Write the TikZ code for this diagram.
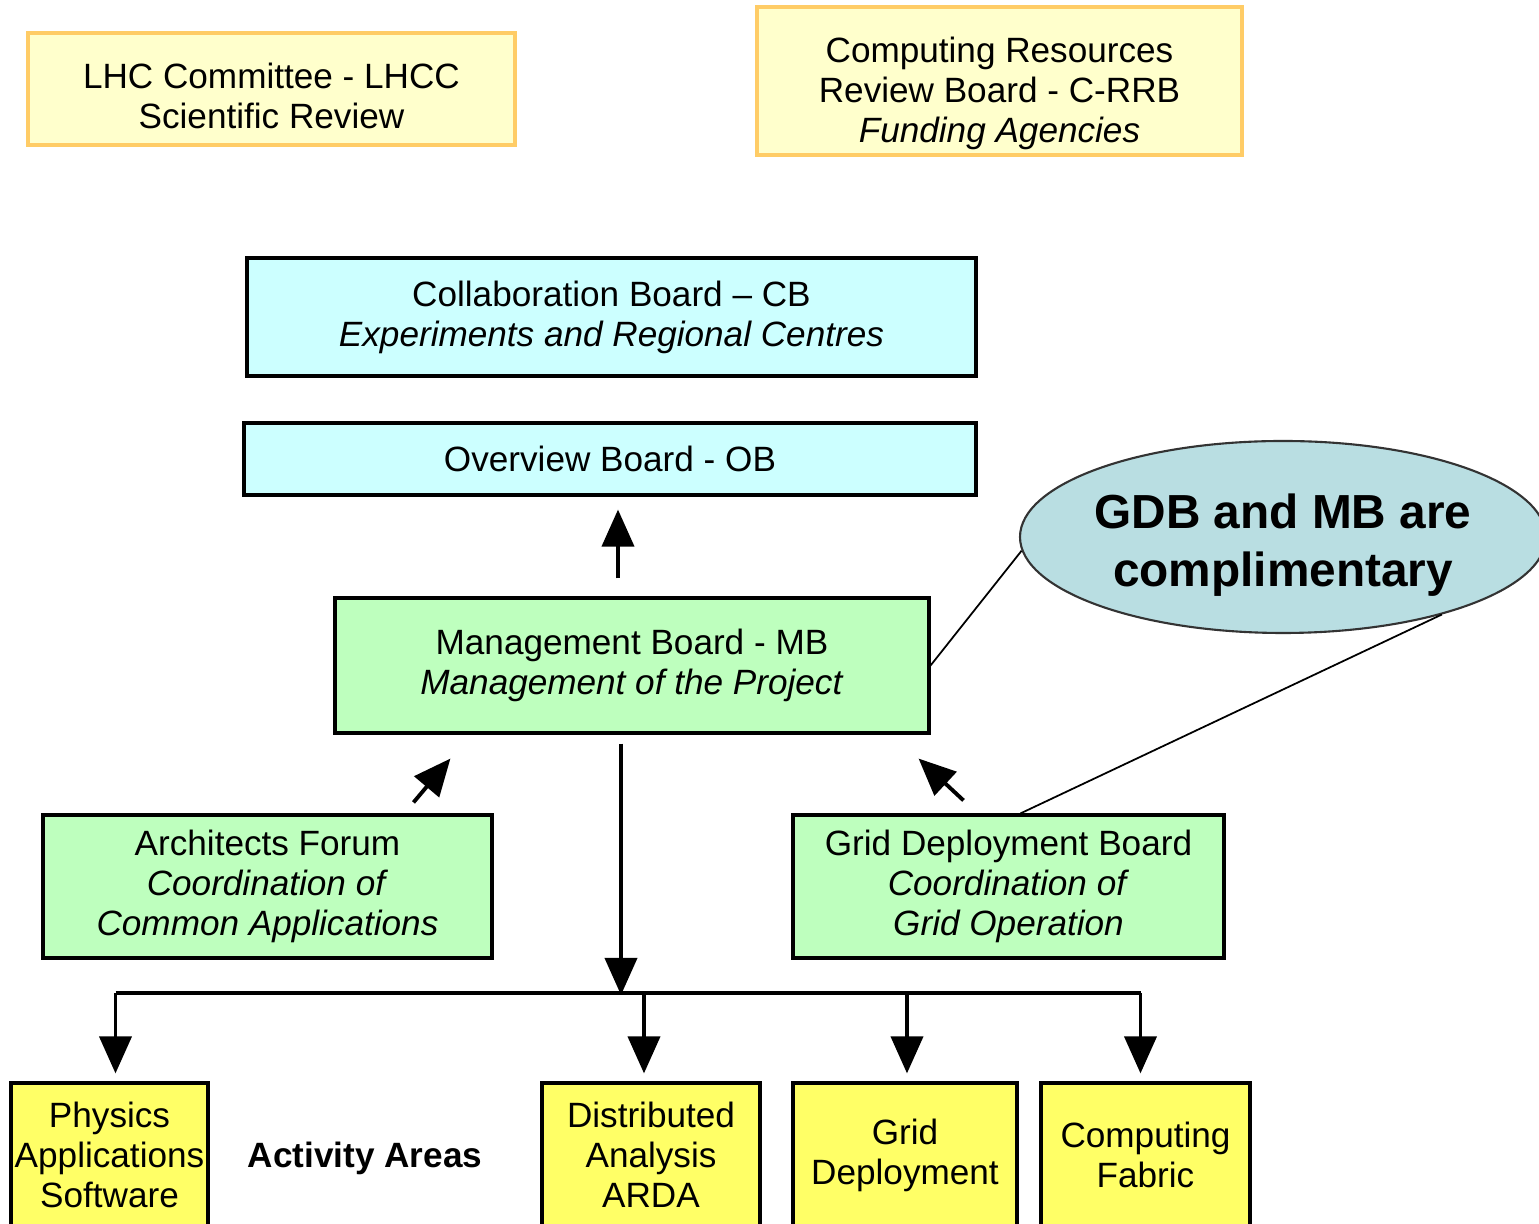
\documentclass[tikz,border=0pt]{standalone}
\usepackage{fontspec}
\setmainfont{Liberation Sans}
\usetikzlibrary{arrows.meta,shapes.geometric}

\definecolor{revfill}{RGB}{255,255,204}
\definecolor{revline}{RGB}{255,204,102}
\definecolor{boardfill}{RGB}{204,255,255}
\definecolor{mgmtfill}{RGB}{190,255,190}
\definecolor{areafill}{RGB}{255,255,102}
\definecolor{notefill}{RGB}{185,222,226}

\begin{document}
\begin{tikzpicture}[x=0.1mm,y=-0.1mm,
    >={Triangle[length=3.7mm,width=3.2mm]},
    every node/.style={inner sep=0pt,align=center,font=\fontsize{10}{11.4}\selectfont},
    review/.style={draw=revline,fill=revfill,line width=0.9pt},
    board/.style={draw,fill=boardfill,line width=0.9pt},
    mgmt/.style={draw,fill=mgmtfill,line width=0.9pt},
    area/.style={draw,fill=areafill,line width=0.9pt,minimum height=1.44cm},
    link/.style={line width=1.1pt}]
  \useasboundingbox (0,0) rectangle (1539,1224);
  \clip (0,0) rectangle (1539,1224);
                % review bodies
                \node[review,minimum width=4.87cm,minimum height=1.12cm] (lhcc) at (271.5,89) {};
                \node (lhcctext) at ([yshift=-0.7mm]lhcc.center) {LHC Committee - LHCC\\Scientific Review};
                \node[review,minimum width=4.85cm,minimum height=1.48cm] (crrb) at (999.5,81) {};
                \node (crrbtext) at ([yshift=-1.2mm]crrb.center) {Computing Resources\\Review Board - C-RRB\\\textit{Funding Agencies}};
                % boards
                \node[board,minimum width=7.29cm,minimum height=1.18cm] (cb) at (611.5,317) {Collaboration Board -- CB\\\textit{Experiments and Regional Centres}};
                \node[board,minimum width=7.32cm,minimum height=0.72cm] (ob) at (610,459) {Overview Board - OB};
                \node[mgmt,minimum width=5.94cm,minimum height=1.35cm] (mb) at (632,665.5) {Management Board - MB\\\textit{Management of the Project}};
                \node[mgmt,minimum width=4.49cm,minimum height=1.43cm] (af) at (267.5,886.5) {Architects Forum\\\textit{Coordination of}\\\textit{Common Applications}};
                \node[mgmt,minimum width=4.31cm,minimum height=1.43cm] (gdb) at (1008.5,886.5) {Grid Deployment Board\\\textit{Coordination of}\\\textit{Grid Operation}};
                % activity areas
                \node[area,minimum width=1.97cm] (pas) at (109.5,1155) {Physics\\Applications\\Software};
                \node[area,minimum width=2.18cm] (da) at (651,1155) {Distributed\\Analysis\\ARDA};
                \node[area,minimum width=2.24cm] (gd) at (905,1155) {Grid\\Deployment};
                \node[area,minimum width=2.09cm] (cf) at (1145.5,1155) {Computing\\Fabric};
                \node[font=\bfseries\fontsize{10}{11.4}\selectfont] (areas) at (365,1158) {Activity Areas};
                % note
                \node[ellipse,draw=black!80,fill=notefill,line width=0.6pt,minimum width=5.26cm,minimum height=1.92cm] (note) at (1283,537) {};
                \node[font=\bfseries\fontsize{13.6}{16.5}\selectfont] (notetext) at ([yshift=-0.8mm]note.center) {GDB and MB are\\complimentary};
                \draw[line width=0.5pt] (note.183) -- (mb.east);
                \draw[line width=0.5pt] (note.-26) -- ([xshift=1.2mm]gdb.north);
                % arrows
                \coordinate (bus) at (621,995);
                \draw[link,->] ([shift={(-14,-18)}]mb.north) -- ([shift={(8,13)}]ob.south);
                \draw[link,->] ([shift={(146,-11)}]af.north) -- ([shift={(117,24)}]mb.south west);
                \draw[link,->] ([shift={(-45,-13)}]gdb.north) -- ([shift={(-12,24)}]mb.south east);
                \draw[link,->] ([shift={(-11,9)}]mb.south) -- (bus);
                \draw[link] ([shift={(6,-88)}]pas.north) -- ([shift={(-5,-88)}]cf.north);
                \foreach \b/\dx in {pas/6,da/-7,gd/2,cf/-5}
                  \draw[link,->] ([shift={(\dx,-88)}]\b.north) -- ([shift={(\dx,-8)}]\b.north);
\end{tikzpicture}
\end{document}
